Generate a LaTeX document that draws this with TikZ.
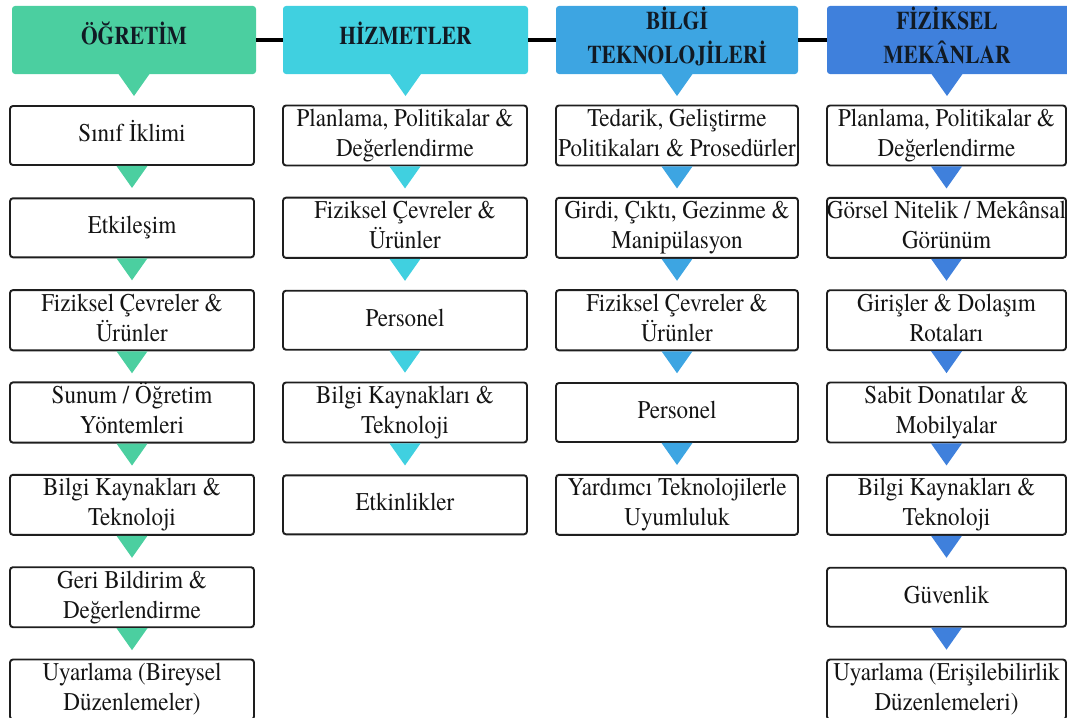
\documentclass[tikz,border=0pt]{standalone}
\usepackage{fontspec}
\usepackage{graphicx}
\setmainfont{texgyretermes}[Extension=.otf, UprightFont=*-regular, BoldFont=*-bold, ItalicFont=*-italic, BoldItalicFont=*-bolditalic]
\usetikzlibrary{calc}
\definecolor{cgreen}{HTML}{4BCFA0}
\definecolor{ccyan}{HTML}{40D0E0}
\definecolor{cblue}{HTML}{3DA5E2}
\definecolor{cdblue}{HTML}{3F80DC}
\definecolor{hdrtext}{HTML}{111A24}
\definecolor{boxline}{HTML}{1E1E1E}
\definecolor{bodytext}{HTML}{141414}
\newcommand\sq[1]{\scalebox{0.905}[1]{\begin{tabular}{@{}c@{}}#1\end{tabular}}}
\newcommand\hq[1]{\scalebox{0.84}[1]{\begin{tabular}{@{}c@{}}#1\end{tabular}}}
\newcommand\hs[1]{\scalebox{0.84}[1]{#1}}
\newcommand\mytri[2]{\fill[#2] ($(#1.south)+(-15.5,0)$) -- ($(#1.south)+(15.5,0)$) -- ($(#1.south)+(0,22)$) -- cycle;}
\tikzset{
  hdr/.style={rounded corners=3pt, minimum height=68, inner sep=0pt, outer sep=0pt},
  hdrtxt/.style={font=\bfseries\fontsize{25.5}{34}\selectfont, text=hdrtext, inner sep=0pt},
  itembox/.style={draw=boxline, line width=1.9pt, rounded corners=3pt, fill=white,
    minimum height=59, text=bodytext,
    font=\fontsize{25.5}{30}\selectfont, inner sep=0pt},
  colA/.style={itembox, minimum width=244},
  colB/.style={itembox, minimum width=244},
  colC/.style={itembox, minimum width=242},
  colD/.style={itembox, minimum width=239},
  hline/.style={line width=4pt, black}
}
\begin{document}
\begin{tikzpicture}[x=1pt,y=-1pt]
\useasboundingbox (0,0) rectangle (1067,717);
\clip (0,0) rectangle (1067,717);
% headers
\node[hdr, fill=cgreen, minimum width=244] (h1) at (134,40) {};
\node[hdr, fill=ccyan, minimum width=245] (h2) at (405.5,40) {};
\node[hdr, fill=cblue, minimum width=242] (h3) at (677,40) {};
\node[hdr, fill=cdblue, minimum width=250] (h4) at (952,40) {};
\node[hdrtxt, anchor=base] (t1) at (134,45) {\hs{ÖĞRETİM}};
\node[hdrtxt, anchor=base] (t2) at (405.5,45) {\hs{HİZMETLER}};
\node[hdrtxt] (t3) at (677,40) {\hq{BİLGİ\\TEKNOLOJİLERİ}};
\node[hdrtxt] (t4) at (947,40) {\hq{FİZİKSEL\\MEKÂNLAR}};
\draw[hline] (h1.east) -- (h2.west);
\draw[hline] (h2.east) -- (h3.west);
\draw[hline] (h3.east) -- (h4.west);
% column 1
\node[colA] (a1) at (132,135.5) {\sq{Sınıf İklimi}};
\node[colA] (a2) at (132,227.8) {\sq{Etkileşim}};
\node[colA] (a3) at (132,320.2) {\sq{Fiziksel Çevreler \&\\Ürünler}};
\node[colA] (a4) at (132,412.5) {\sq{Sunum / Öğretim\\Yöntemleri}};
\node[colA] (a5) at (132,504.8) {\sq{Bilgi Kaynakları \&\\Teknoloji}};
\node[colA] (a6) at (132,597.2) {\sq{Geri Bildirim \&\\Değerlendirme}};
\node[colA] (a7) at (132,689.5) {\sq{Uyarlama (Bireysel\\Düzenlemeler)}};
% column 2
\node[colB] (b1) at (405,135.5) {\sq{Planlama, Politikalar \&\\Değerlendirme}};
\node[colB] (b2) at (405,227.8) {\sq{Fiziksel Çevreler \&\\Ürünler}};
\node[colB] (b3) at (405,320.2) {\sq{Personel}};
\node[colB] (b4) at (405,412.5) {\sq{Bilgi Kaynakları \&\\Teknoloji}};
\node[colB] (b5) at (405,504.8) {\sq{Etkinlikler}};
% column 3
\node[colC] (c1) at (677,135.5) {\sq{Tedarik, Geliştirme\\Politikaları \& Prosedürler}};
\node[colC] (c2) at (677,227.8) {\sq{Girdi, Çıktı, Gezinme \&\\Manipülasyon}};
\node[colC] (c3) at (677,320.2) {\sq{Fiziksel Çevreler \&\\Ürünler}};
\node[colC] (c4) at (677,412.5) {\sq{Personel}};
\node[colC] (c5) at (677,504.8) {\sq{Yardımcı Teknolojilerle\\Uyumluluk}};
% column 4
\node[colD] (d1) at (946.5,135.5) {\sq{Planlama, Politikalar \&\\Değerlendirme}};
\node[colD] (d2) at (946.5,227.8) {\sq{Görsel Nitelik / Mekânsal\\Görünüm}};
\node[colD] (d3) at (946.5,320.2) {\sq{Girişler \& Dolaşım\\Rotaları}};
\node[colD] (d4) at (946.5,412.5) {\sq{Sabit Donatılar \&\\Mobilyalar}};
\node[colD] (d5) at (946.5,504.8) {\sq{Bilgi Kaynakları \&\\Teknoloji}};
\node[colD] (d6) at (946.5,597.2) {\sq{Güvenlik}};
\node[colD] (d7) at (946.5,689.5) {\sq{Uyarlama (Erişilebilirlik\\Düzenlemeleri)}};
% pointers
\mytri{h1}{cgreen}
\mytri{a1}{cgreen}\mytri{a2}{cgreen}\mytri{a3}{cgreen}\mytri{a4}{cgreen}\mytri{a5}{cgreen}\mytri{a6}{cgreen}
\mytri{h2}{ccyan}
\mytri{b1}{ccyan}\mytri{b2}{ccyan}\mytri{b3}{ccyan}\mytri{b4}{ccyan}
\mytri{h3}{cblue}
\mytri{c1}{cblue}\mytri{c2}{cblue}\mytri{c3}{cblue}\mytri{c4}{cblue}
\fill[cdblue] ($(t4|-h4.south)+(-15.5,0)$) -- ($(t4|-h4.south)+(15.5,0)$) -- ($(t4|-h4.south)+(0,22)$) -- cycle;
\mytri{d1}{cdblue}\mytri{d2}{cdblue}\mytri{d3}{cdblue}\mytri{d4}{cdblue}\mytri{d5}{cdblue}\mytri{d6}{cdblue}
\end{tikzpicture}
\end{document}
